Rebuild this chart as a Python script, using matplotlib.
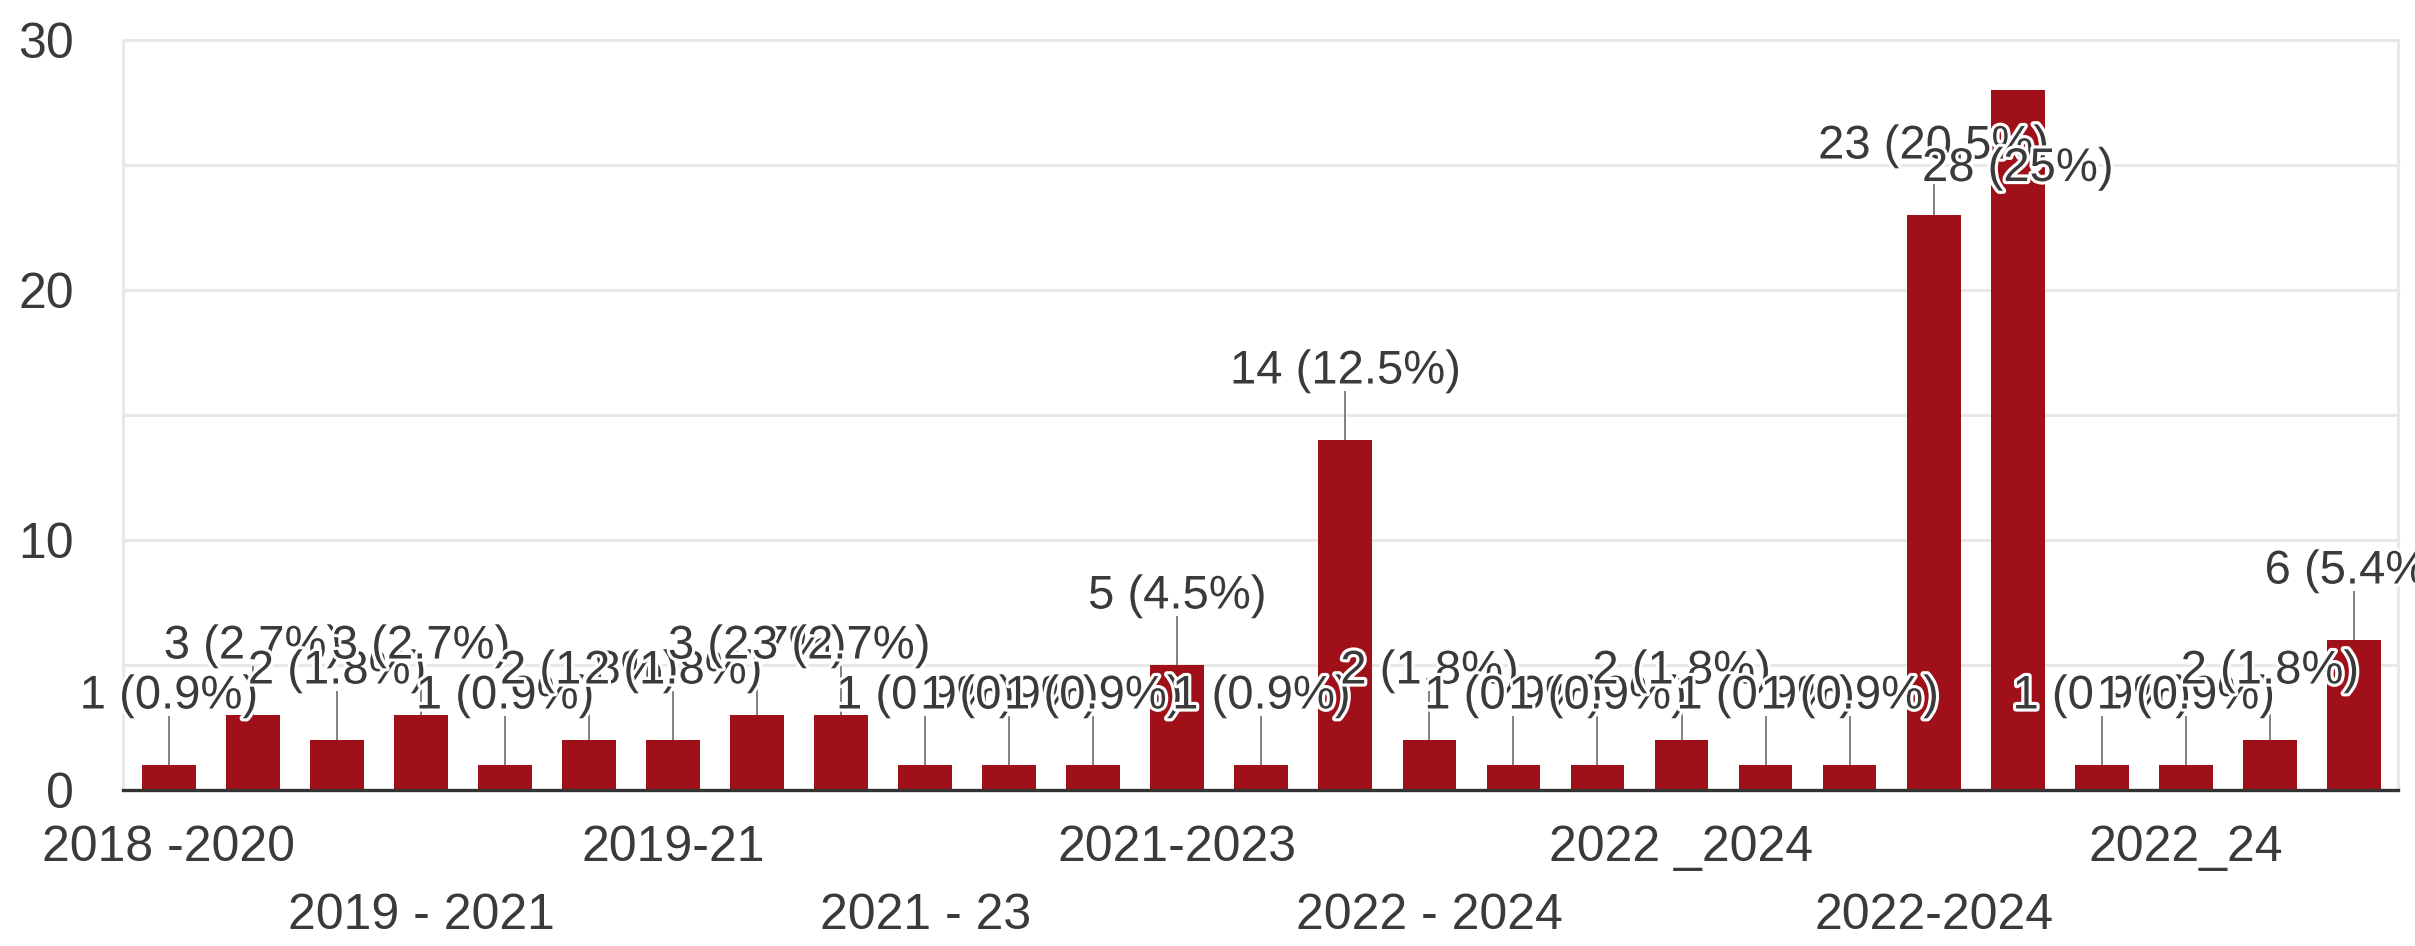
import matplotlib
matplotlib.use("Agg")
import matplotlib.pyplot as plt
import matplotlib.patheffects as pe
import numpy as np

# ---- data ----
values = [1, 3, 2, 3, 1, 2, 2, 3, 3, 1, 1, 1, 5, 1, 14, 2, 1, 1, 2, 1, 1, 23, 28, 1, 1, 2, 6]
tick_labels = ["2018 -2020", "2019 - 2021", "2019-21", "2021 - 23", "2021-2023",
               "2022 - 2024", "2022 _2024", "2022-2024", "2022_24"]
y_ticks = [0, 10, 20, 30]
grid_vals = [5, 10, 15, 20, 25, 30]

plt.rcParams['font.family'] = ['Liberation Sans', 'DejaVu Sans']

BAR = '#a01018'
TXT = '#3a3a3a'
GRID = '#e8e8e8'

fig = plt.figure(figsize=(24.15, 9.46), dpi=100)
ax = fig.add_axes([0.0509, 0.1649, 0.9420, 0.7928])

x = np.arange(len(values))
total = sum(values)
ax.bar(x, values, width=0.64, color=BAR, zorder=2)

ax.set_xlim(-0.547, len(values) - 1 + 0.524)
ax.set_ylim(0, 30)

for s in ax.spines.values():
    s.set_visible(False)

for g in grid_vals:
    ax.axhline(g, color=GRID, lw=2.2, zorder=0, clip_on=False)
for xe in ax.get_xlim():
    ax.axvline(xe, color=GRID, lw=2.2, zorder=0, clip_on=False)
ax.axhline(0, color='#333333', lw=2.4, zorder=5, clip_on=False)

ax.set_yticks(y_ticks)
ax.set_yticklabels([str(t) for t in y_ticks])
ax.tick_params(axis='y', length=0, pad=35, labelsize=36, labelcolor=TXT)

# x tick labels: every third bar, alternating rows
pos = list(range(0, len(values), 3))
row1 = pos[0::2]
row2 = pos[1::2]
ax.set_xticks(row1)
ax.set_xticklabels(tick_labels[0::2])
ax.set_xticks(row2, minor=True)
ax.set_xticklabels(tick_labels[1::2], minor=True)
ax.tick_params(axis='x', which='major', length=0, pad=25, labelsize=36, labelcolor=TXT)
ax.tick_params(axis='x', which='minor', length=0, pad=74, labelsize=36, labelcolor=TXT)

# data labels
halo = [pe.withStroke(linewidth=4.5, foreground='white')]
for i, v in enumerate(values):
    pct = v / total * 100
    ps = f"{pct:.1f}".rstrip('0').rstrip('.')
    label = f"{v} ({ps}%)"
    above = v + 2.9 + 1 <= 30 * 0.92
    yc = v + 2.9 if above else v - 3.0
    if above:
        ax.plot([i, i], [v, yc - 0.95], color='#808080', lw=1.4, zorder=3,
                solid_capstyle='butt')
    ax.text(i, yc - 0.64, label, ha='center', va='baseline', fontsize=34,
            color=TXT, zorder=6 + i, path_effects=halo)

fig.savefig('out.png', dpi=100, facecolor='white')
